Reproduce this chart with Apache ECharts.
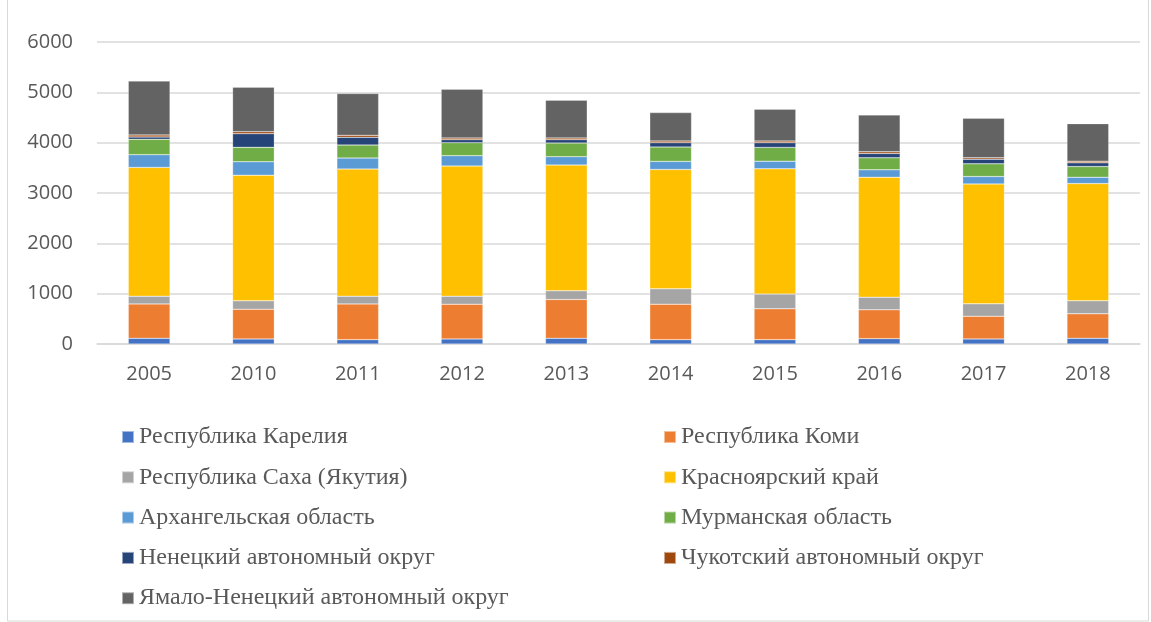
<!DOCTYPE html>
<html>
<head>
<meta charset="utf-8">
<script src="https://cdn.jsdelivr.net/npm/echarts@6/dist/echarts.min.js"></script>
<style>
  html, body { margin: 0; padding: 0; background: #fff; }
  #main { width: 1151px; height: 622px; }
</style>
</head>
<body>
<div id="main"></div>
<script>
// годы
const years = ['2005', '2010', '2011', '2012', '2013', '2014', '2015', '2016', '2017', '2018'];

// значения по регионам
const karelia = [113, 100, 86, 100, 113, 86, 86, 106, 100, 113];
const komi = [684, 591, 711, 691, 771, 705, 613, 573, 452, 486];
const sakha = [153, 166, 153, 159, 172, 305, 292, 252, 246, 259];
const krasnoyarsk = [2558, 2498, 2525, 2585, 2499, 2372, 2489, 2382, 2382, 2329];
const arkhangelsk = [253, 266, 219, 206, 166, 160, 153, 147, 147, 126];
const murmansk = [305, 286, 259, 259, 272, 286, 273, 239, 252, 213];
const nenets = [47, 272, 153, 60, 67, 86, 93, 87, 94, 73];
const chukotka = [40, 40, 40, 33, 33, 33, 33, 33, 26, 34];
const yamal = [1070, 884, 831, 970, 751, 565, 632, 732, 785, 745];

const yTicks = [0, 1000, 2000, 3000, 4000, 5000, 6000];

const seriesDefs = [
  { name: 'Республика Карелия', data: karelia, color: '#4472C4' },
  { name: 'Республика Коми', data: komi, color: '#ED7D31' },
  { name: 'Республика Саха (Якутия)', data: sakha, color: '#A5A5A5' },
  { name: 'Красноярский край', data: krasnoyarsk, color: '#FFC000' },
  { name: 'Архангельская область', data: arkhangelsk, color: '#5B9BD5' },
  { name: 'Мурманская область', data: murmansk, color: '#70AD47' },
  { name: 'Ненецкий автономный округ', data: nenets, color: '#264478' },
  { name: 'Чукотский автономный округ', data: chukotka, color: '#9E480E' },
  { name: 'Ямало-Ненецкий автономный округ', data: yamal, color: '#636363' }
];

const chart = echarts.init(document.getElementById('main'), null, { renderer: 'canvas' });

const legendText = {
  fontFamily: '"Liberation Serif", "DejaVu Serif", serif',
  fontSize: 24,
  color: '#595959',
  lineHeight: 24
};

const axisFont = {
  fontFamily: '"Open Sans", "Liberation Sans", sans-serif',
  fontSize: 20,
  color: '#595959'
};

// легенда в две колонки
const leftNames = seriesDefs.filter((s, i) => i % 2 === 0).map(s => s.name);
const rightNames = seriesDefs.filter((s, i) => i % 2 === 1).map(s => s.name);

function makeLegend(left, names) {
  return {
    orient: 'vertical',
    left: left,
    top: 425,
    padding: 0,
    itemWidth: 12,
    itemHeight: 12,
    itemGap: 16.3,
    icon: 'rect',
    textStyle: legendText,
    data: names
  };
}

const option = {
  animation: false,
  backgroundColor: '#fff',
  graphic: [{
    type: 'rect',
    shape: { x: 7.5, y: -2, width: 1141, height: 623 },
    style: { fill: 'none', stroke: '#d9d9d9', lineWidth: 1 },
    silent: true
  }],
  grid: { left: 97, right: 11, top: 42, bottom: 278 },
  legend: [makeLegend(121, leftNames), makeLegend(663, rightNames)],
  xAxis: {
    type: 'category',
    data: years,
    axisLine: { show: true, lineStyle: { color: '#d9d9d9', width: 1.5 } },
    axisTick: { show: false },
    axisLabel: Object.assign({ margin: 20 }, axisFont)
  },
  yAxis: {
    type: 'value',
    min: yTicks[0],
    max: yTicks[yTicks.length - 1],
    interval: 1000,
    axisLine: { show: false },
    axisTick: { show: false },
    splitLine: { lineStyle: { color: '#d9d9d9', width: 1.5 } },
    axisLabel: Object.assign({ margin: 24, formatter: v => String(v) }, axisFont)
  },
  series: seriesDefs.map(s => ({
    name: s.name,
    type: 'bar',
    stack: 'total',
    barWidth: '40%',
    data: s.data,
    itemStyle: { color: s.color, borderColor: 'rgba(255,255,255,0.5)', borderWidth: 0.5 }
  }))
};

chart.setOption(option);
</script>
</body>
</html>
